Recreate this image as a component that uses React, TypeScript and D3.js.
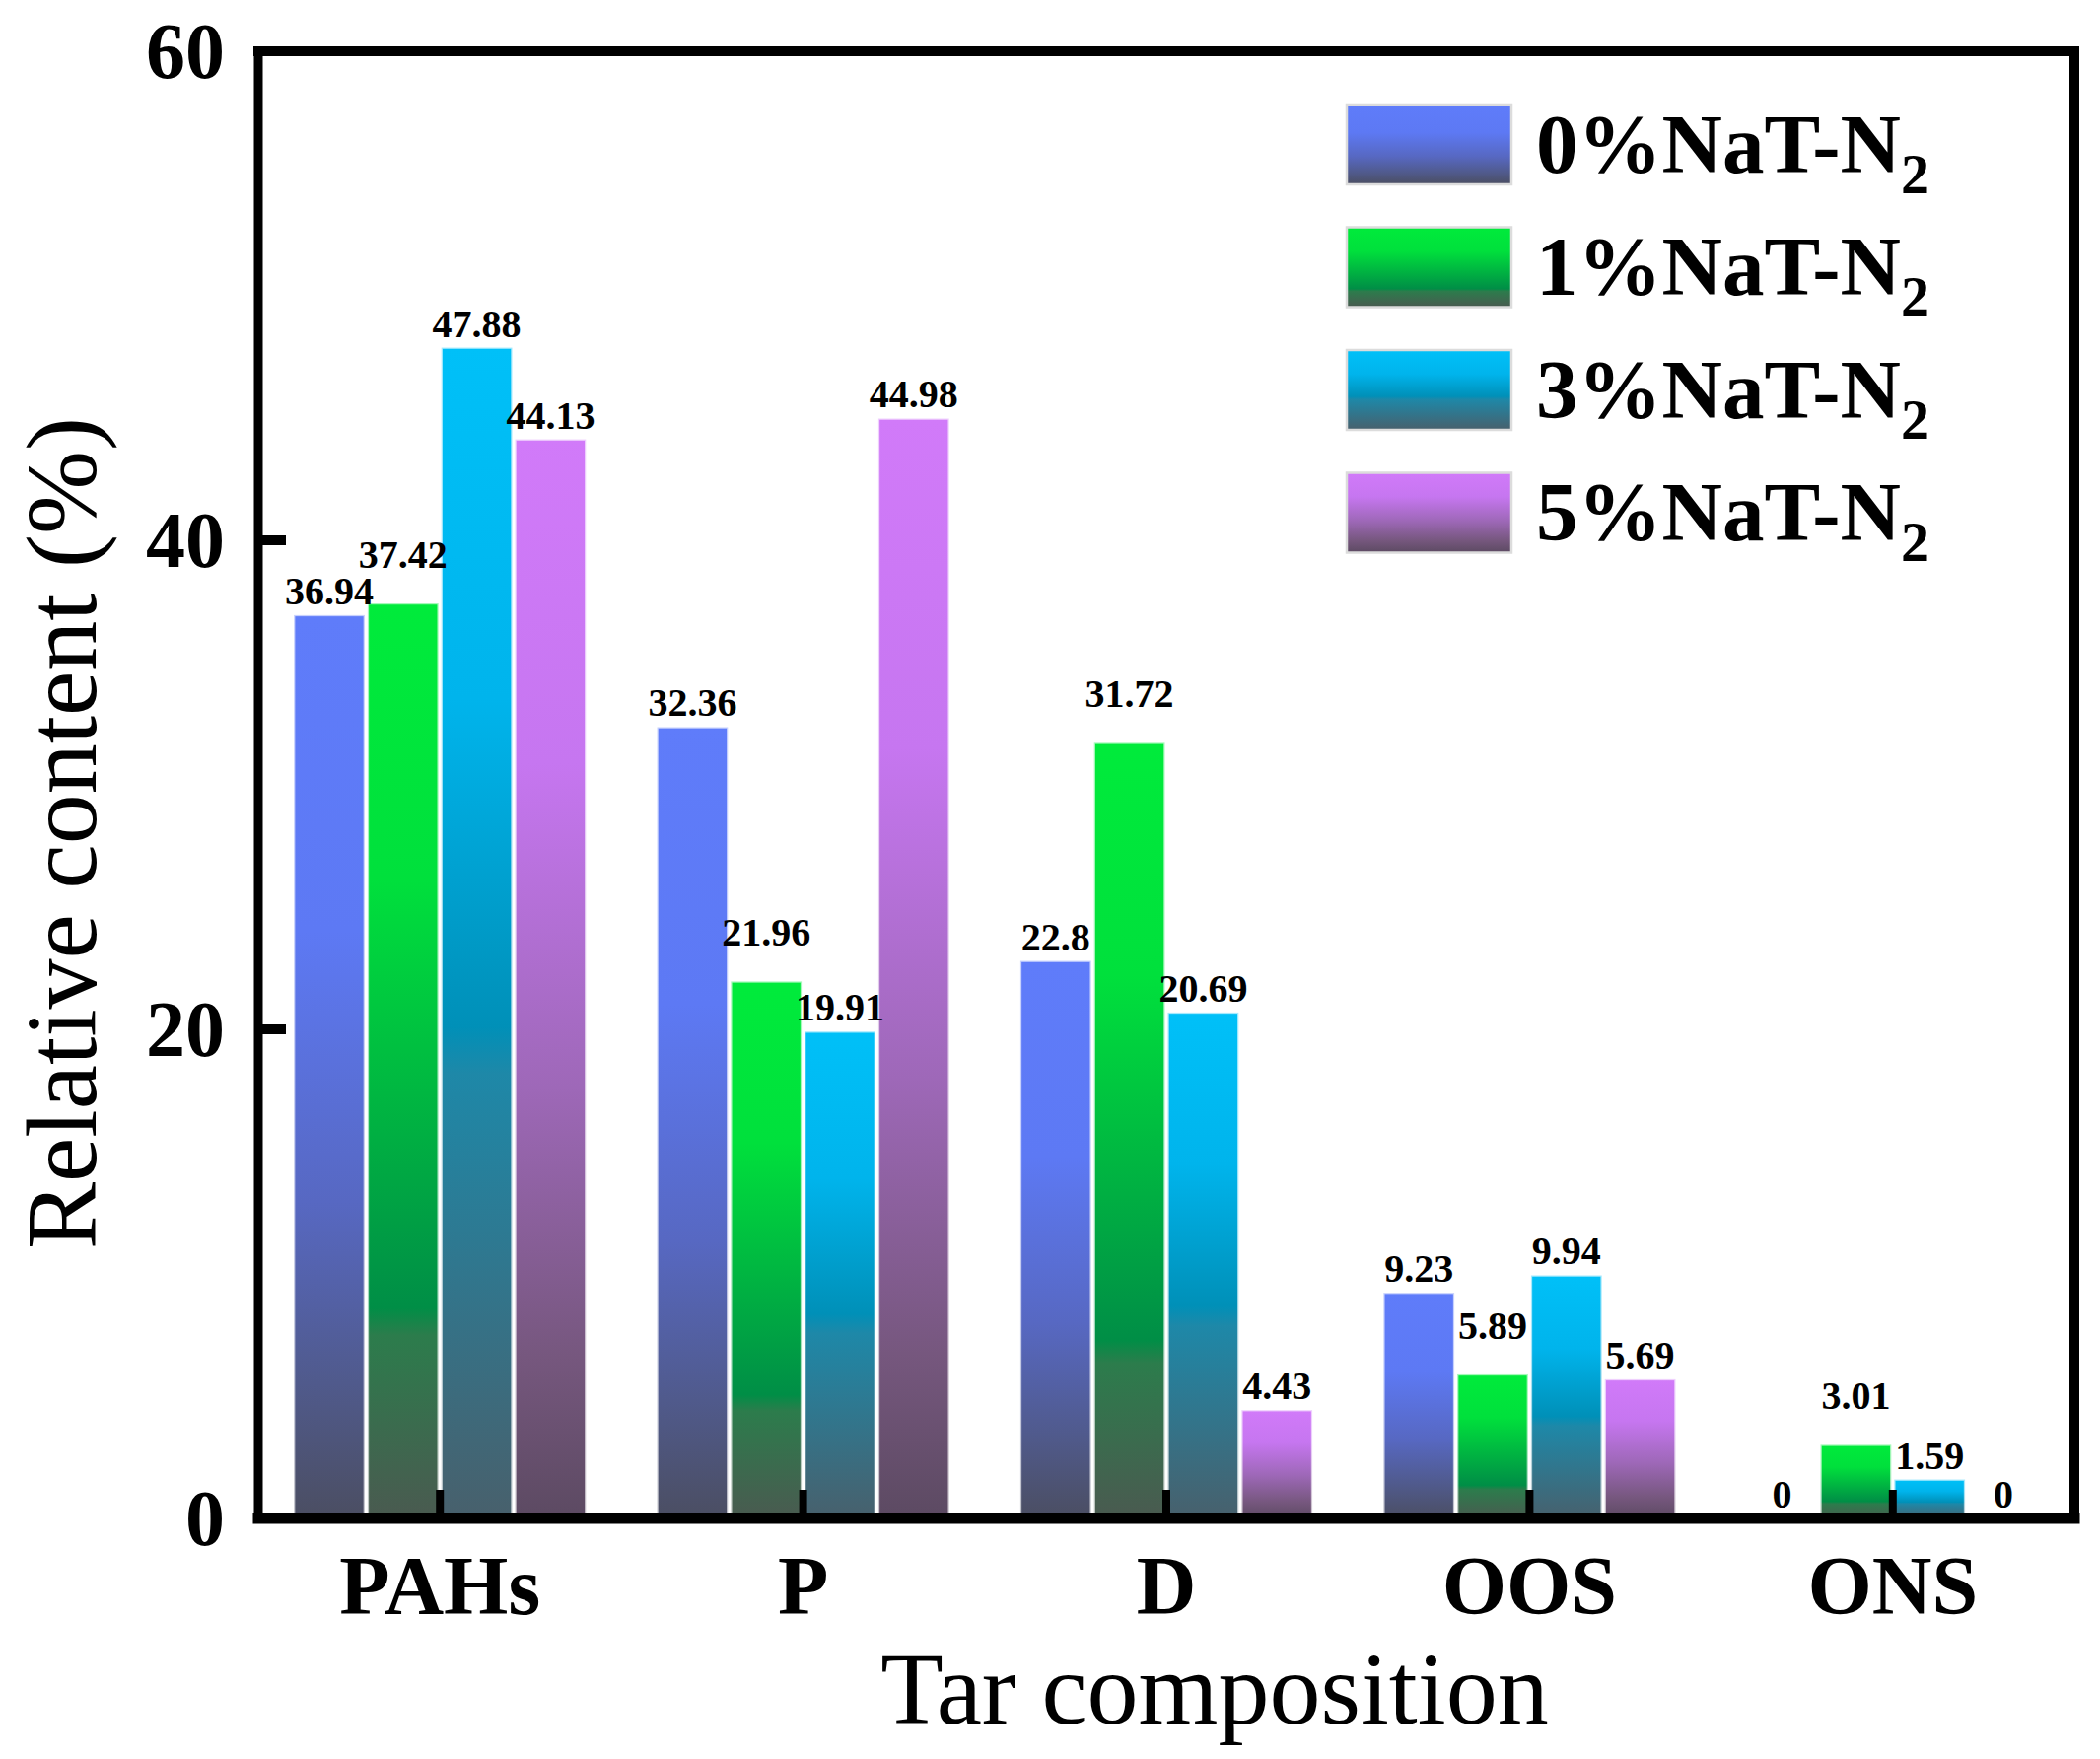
import React from 'react';
import * as d3 from 'd3';

const categories = ['PAHs', 'P', 'D', 'OOS', 'ONS'];
const seriesNames = ['0%NaT-N', '1%NaT-N', '3%NaT-N', '5%NaT-N'];
const series0 = [36.94, 32.36, 22.8, 9.23, 0];
const series1 = [37.42, 21.96, 31.72, 5.89, 3.01];
const series3 = [47.88, 19.91, 20.69, 9.94, 1.59];
const series5 = [44.13, 44.98, 4.43, 5.69, 0];
const yTicks = [0, 20, 40, 60];

// gradient stops per series: top colour fading to a dull dark tone at the bottom
const gradients: [number, string][][] = [
  [[0, '#5f7cfa'], [0.35, '#5d79f4'], [0.65, '#5768c2'], [0.85, '#505a8c'], [1, '#4b4e62']],
  [[0, '#00eb3b'], [0.3, '#00e03c'], [0.77, '#008e46'], [0.8, '#2c7c4c'], [1, '#4a5a50']],
  [[0, '#00c0f8'], [0.3, '#00b4ec'], [0.58, '#0090b8'], [0.62, '#1e88a8'], [1, '#48606c']],
  [[0, '#d17af9'], [0.3, '#c676f0'], [0.6, '#9e68b8'], [0.85, '#76577e'], [1, '#5c4a62']],
];

const W = 2130;
const H = 1784;
const left = 262;
const right = 2104;
const top = 52;
const bottom = 1540;
const font = "'Liberation Serif', 'Times New Roman', serif";

export default function App() {
  const allSeries = [series0, series1, series3, series5];

  const x0 = d3.scaleBand<string>().domain(categories).range([left, right]).padding(0);
  const groupW = x0.bandwidth() * 0.804;
  const x1 = d3
    .scaleBand<number>()
    .domain(d3.range(allSeries.length))
    .range([0, groupW])
    .paddingInner(0.04);
  const y = d3.scaleLinear().domain([0, 60]).range([bottom, top]);

  return (
    <div style={{ position: 'absolute', left: 0, top: 0, background: '#fff' }}>
      <svg width={W} height={H} viewBox={`0 0 ${W} ${H}`} style={{ display: 'block' }}>
        <defs>
          {gradients.map((stops, i) => (
            <linearGradient key={i} id={`grad${i}`} x1="0" y1="0" x2="0" y2="1">
              {stops.map(([o, c], j) => (
                <stop key={j} offset={o} stopColor={c} />
              ))}
            </linearGradient>
          ))}
        </defs>
        <rect width={W} height={H} fill="#fff" />

        {/* bars */}
        {categories.map((cat, ci) => {
          const gx = (x0(cat) as number) + (x0.bandwidth() - groupW) / 2;
          return (
            <g key={cat} transform={`translate(${gx},0)`}>
              {allSeries.map((vals, si) => {
                const v = vals[ci];
                const bx = x1(si) as number;
                const bw = x1.bandwidth();
                return v > 0 ? (
                  <rect
                    key={si}
                    x={bx}
                    y={y(v)}
                    width={bw}
                    height={y(0) - y(v)}
                    fill={`url(#grad${si})`}
                    stroke="rgba(255,255,255,0.65)"
                    strokeWidth={2.5}
                  />
                ) : null;
              })}
            </g>
          );
        })}

        {/* value labels */}
        {categories.map((cat, ci) => {
          const gx = (x0(cat) as number) + (x0.bandwidth() - groupW) / 2;
          return allSeries.map((vals, si) => {
            const v = vals[ci];
            const cx = gx + (x1(si) as number) + x1.bandwidth() / 2;
            const lift = si === 1 ? 36 : 11;
            return (
              <text
                key={`${cat}-${si}`}
                x={cx}
                y={y(v) - lift}
                textAnchor="middle"
                fontFamily={font}
                fontWeight="bold"
                fontSize={40}
                fill="#000"
              >
                {String(v)}
              </text>
            );
          });
        })}

        {/* frame */}
        <line x1={left} x2={right} y1={top} y2={top} stroke="#000" strokeWidth={10} strokeLinecap="square" />
        <line x1={left} x2={left} y1={top} y2={bottom} stroke="#000" strokeWidth={9} strokeLinecap="square" />
        <line x1={right} x2={right} y1={top} y2={bottom} stroke="#000" strokeWidth={10} strokeLinecap="square" />
        <line x1={left} x2={right} y1={bottom} y2={bottom} stroke="#000" strokeWidth={11} strokeLinecap="square" />

        {/* y ticks */}
        {yTicks.map((t) => (
          <g key={t}>
            <line x1={left} x2={left + 28} y1={y(t)} y2={y(t)} stroke="#000" strokeWidth={10} />
            <text
              x={228}
              y={y(t)}
              dy="0.34em"
              textAnchor="end"
              fontFamily={font}
              fontWeight="bold"
              fontSize={80}
            >
              {t}
            </text>
          </g>
        ))}

        {/* x ticks and category labels */}
        {categories.map((cat) => {
          const cx = (x0(cat) as number) + x0.bandwidth() / 2;
          return (
            <g key={cat}>
              <line x1={cx} x2={cx} y1={bottom} y2={bottom - 29} stroke="#000" strokeWidth={8} />
              <text x={cx} y={1637} textAnchor="middle" fontFamily={font} fontWeight="bold" fontSize={84}>
                {cat}
              </text>
            </g>
          );
        })}

        {/* axis titles */}
        <text x={1232} y={1748} textAnchor="middle" fontFamily={font} fontSize={104}>
          Tar composition
        </text>
        <text
          transform={`translate(97,845) rotate(-90)`}
          textAnchor="middle"
          fontFamily={font}
          fontSize={102}
        >
          Relative content (%)
        </text>

        {/* legend */}
        {seriesNames.map((name, i) => {
          const ty = 106 + i * 124.5;
          return (
            <g key={name}>
              <rect
                x={1366}
                y={ty}
                width={167}
                height={81}
                fill={`url(#grad${i})`}
                stroke="#dcdcdc"
                strokeWidth={2.5}
              />
              <text x={1558} y={ty + 68.5} fontFamily={font} fontWeight="bold" fontSize={85}>
                {name}
                <tspan fontSize={58} dy={21}>
                  2
                </tspan>
              </text>
            </g>
          );
        })}
      </svg>
    </div>
  );
}
